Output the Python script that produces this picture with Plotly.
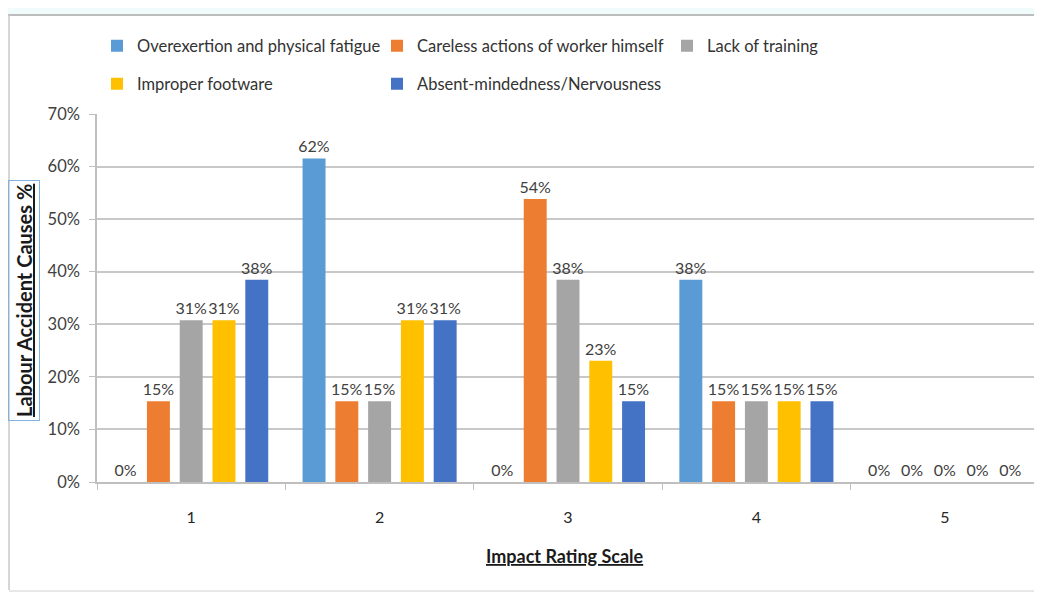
import plotly.graph_objects as go

# impact rating categories
ratings = ["1", "2", "3", "4", "5"]

# share of respondents per cause (13 respondents -> multiples of 1/13)
overexertion = [0.0, 0.6154, 0.0, 0.3846, 0.0]
careless = [0.1538, 0.1538, 0.5385, 0.1538, 0.0]
lack_training = [0.3077, 0.1538, 0.3846, 0.1538, 0.0]
improper_footware = [0.3077, 0.3077, 0.2308, 0.1538, 0.0]
absent_minded = [0.3846, 0.3077, 0.1538, 0.1538, 0.0]

names = ["Overexertion and physical fatigue", "Careless actions of worker himself",
         "Lack of training", "Improper footware", "Absent-mindedness/Nervousness"]
values = [overexertion, careless, lack_training, improper_footware, absent_minded]
colors = ["#5B9BD5", "#ED7D31", "#A5A5A5", "#FFC000", "#4472C4"]

# legend grid: one single-item legend per entry (screen px)
legend_pos = [(97, 46), (377, 46), (667, 46), (97, 84), (377, 84)]

font_family = "Lato, Open Sans, sans-serif"
txt_color = "#404040"

# page body has an 8px margin, so the figure is shrunk by that much
OFF = 8
W, H = 1042 - OFF, 594 - OFF
L, R, T, B = 97 - OFF, 3, 114 - OFF, 112
pw, ph = W - L - R, H - T - B


def px_x(x):
    # x in screen pixels -> paper coords
    return (x - OFF - L) / pw


def px_y(y):
    return (H - B - (y - OFF)) / ph


fig = go.Figure()
for i, (name, vals, color) in enumerate(zip(names, values, colors)):
    fig.add_trace(go.Bar(
        x=ratings, y=vals, name=name,
        marker=dict(color=color, line=dict(width=0)),
        text=[f"{v:.0%}" for v in vals],
        textposition="outside",
        constraintext="none",
        textfont=dict(size=16, color=txt_color, family=font_family),
        cliponaxis=False,
        showlegend=True,
        legend=f"legend{i + 2}",
    ))

fig.update_layout(
    width=W, height=H,
    margin=dict(l=L, r=R, t=T, b=B),
    paper_bgcolor="white", plot_bgcolor="white",
    font=dict(family=font_family, size=14, color=txt_color),
    barmode="group", bargap=0.13, bargroupgap=0.3,
    showlegend=True,
)
for i, (lx, ly) in enumerate(legend_pos):
    fig.update_layout({f"legend{i + 2}": dict(
        x=px_x(lx), y=px_y(ly), xanchor="left", yanchor="middle",
        orientation="h", itemwidth=30,
        font=dict(size=16.5, color="#333333"),
        bgcolor="rgba(0,0,0,0)",
    )})

fig.update_yaxes(
    range=[0, 0.7], dtick=0.1, tickformat=".0%",
    showgrid=True, gridcolor="#C8C8C8", gridwidth=1.5,
    showline=True, linecolor="#BFBFBF", linewidth=1.5,
    ticks="outside", ticklen=6, tickcolor="#BFBFBF",
    ticklabelstandoff=6,
    tickfont=dict(size=16.5, color=txt_color),
    zeroline=False,
)
fig.update_xaxes(
    tickson="boundaries", ticks="outside", ticklen=6, tickcolor="#BFBFBF",
    showline=True, linecolor="#BFBFBF", linewidth=1.5,
    ticklabelstandoff=20,
    tickfont=dict(size=16, color="#262626"),
)

# axis titles
fig.add_annotation(
    x=px_x(24), y=px_y(301), xref="paper", yref="paper",
    xanchor="center", yanchor="middle",
    text="<b><u>Labour Accident Causes %</u></b>", textangle=-90,
    showarrow=False, font=dict(size=20, color="#1a1a1a"),
    bordercolor="#7FB2E5", borderwidth=1, borderpad=3,
)
fig.add_annotation(
    x=px_x(565), y=px_y(556), xref="paper", yref="paper",
    xanchor="center", yanchor="middle",
    text="<b><u>Impact Rating Scale</u></b>",
    showarrow=False, font=dict(size=18, color="#1a1a1a"),
)

# chart frame remnants (spreadsheet strip and chart border)
fig.add_shape(type="rect", xref="paper", yref="paper",
              x0=px_x(OFF), x1=px_x(1042), y0=px_y(OFF), y1=px_y(14),
              fillcolor="#F0FCFC", line=dict(width=0), layer="below")
fig.add_shape(type="line", xref="paper", yref="paper",
              x0=px_x(OFF), x1=px_x(1042), y0=px_y(15), y1=px_y(15),
              line=dict(color="#BDBDBD", width=2))
fig.add_shape(type="line", xref="paper", yref="paper",
              x0=px_x(9), x1=px_x(9), y0=px_y(15), y1=px_y(590),
              line=dict(color="#C8C8C8", width=1.5))
fig.add_shape(type="line", xref="paper", yref="paper",
              x0=px_x(9), x1=px_x(1042), y0=px_y(591), y1=px_y(591),
              line=dict(color="#D0D0D0", width=1))

fig.write_html("out.html")
